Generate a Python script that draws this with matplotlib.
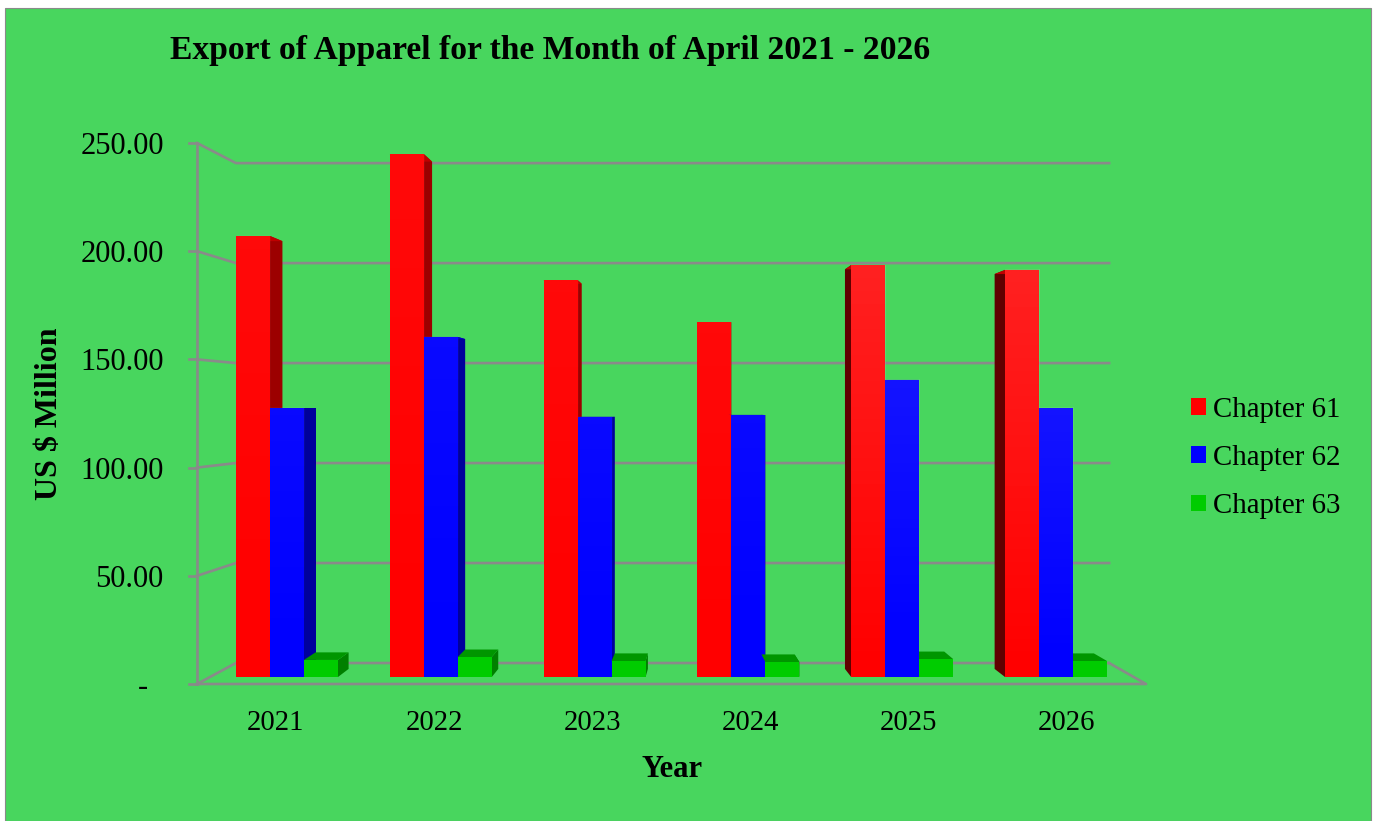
import numpy as np
import matplotlib
matplotlib.use('Agg')
import matplotlib.pyplot as plt
from matplotlib.patches import Polygon, Rectangle, Patch

years = ['2021', '2022', '2023', '2024', '2025', '2026']
series_names = ['Chapter 61', 'Chapter 62', 'Chapter 63']
chapter61 = [209.3, 248.2, 188.4, 168.4, 195.5, 193.2]
chapter62 = [127.7, 161.4, 123.4, 124.3, 141.0, 127.7]
chapter63 = [8.1, 9.5, 7.6, 7.1, 8.5, 7.6]
y_ticks = [0, 50, 100, 150, 200, 250]
y_labels = ['-  ', '50.00', '100.00', '150.00', '200.00', '250.00']

W, H = 1373, 821
BG = '#48d65e'
GRID = '#8a8a8a'
FONT = 'Liberation Serif'
face = ['#ff0000', '#0000ff', '#00cc00']
side = ['#9c0000', '#00009c', '#008000']
top = ['#c00000', '#0000c0', '#009600']
left_side = '#600000'
wash = [0.13, 0.08, 0.0]

# bar plane runs 2.107 px per unit, groups are 153.8 px apart
bar_w = 34 / 153.8
xv, yv = 2.887, 127.7


def back_pt(x, y):
    # push a point of the bar front towards the vanishing point
    dx = 0.027*(xv - x)
    if x > xv:
        dx -= 0.0195
    return x + dx, y + 0.03*(yv - y)


def back_y(v):
    return 6.64 + 0.949*v


def front_y(v):
    return -3.32 + 1.027*v


fig = plt.figure(figsize=(W/100, H/100), dpi=100, facecolor='white')
fig.add_artist(Rectangle((5/W, 0), 1366/W, 1 - 8/H, transform=fig.transFigure,
                         facecolor=BG, edgecolor='#8a8a8a', linewidth=0.8, zorder=-1))
ax = fig.add_axes([197/W, 1 - 684/H, 949/W, 541/H])
ax.patch.set_visible(False)
for s in ax.spines.values():
    s.set_visible(False)

# walls
lw = 1.9
xl_f, xl_b, xr_b, xr_f = -0.585, -0.332, 5.345, 5.585
for v in y_ticks:
    ax.plot([xl_f, xl_b, xr_b], [front_y(v), back_y(v), back_y(v)], color=GRID, lw=lw, clip_on=False, zorder=1)
    ax.plot([xl_f - 0.05, xl_f], [front_y(v), front_y(v)], color=GRID, lw=lw, clip_on=False, zorder=1)
ax.plot([xl_f, xl_f], [front_y(0), front_y(250)], color=GRID, lw=lw, clip_on=False, zorder=1)
ax.plot([xl_f, xr_f, xr_b], [front_y(0), front_y(0), back_y(0)], color=GRID, lw=lw, clip_on=False, zorder=1)

all_series = [chapter61, chapter62, chapter63]
for j, vals in enumerate(all_series):
    off = (j - 1)*bar_w
    xs = np.arange(len(vals)) + off
    bars = ax.bar(xs, vals, bar_w, color=face[j], linewidth=0, zorder=3 + j*2)
    for i, b in enumerate(bars):
        x0, x1, h = b.get_x(), b.get_x() + bar_w, b.get_height()
        # right of the vanishing point only the red bar shows its left wall
        if i <= 3 or j == 0:
            xe = x1 if i <= 3 else x0
            bx, by = back_pt(xe, h)
            bx0, by0 = back_pt(xe, 0)
            ax.add_patch(Polygon([(xe, 0), (xe, h), (bx, by), (bx0, by0)], closed=True,
                                 facecolor=side[j] if i <= 3 else left_side, edgecolor='none', zorder=2 + j*2))
        # top face, hidden behind the blue bar on the right hand groups
        z = 2 + j*2 if i <= 3 else 2
        ax.add_patch(Polygon([(x0, h), (x1, h), back_pt(x1, h), back_pt(x0, h)], closed=True,
                             facecolor=top[j], edgecolor='none', zorder=z))
        # the later bars have a stronger light wash at the top
        if wash[j] > 0:
            a = wash[j] if i >= 4 else 0.04
            grad = np.ones((32, 1, 4))
            grad[:, 0, 3] = np.linspace(a, 0, 32)
            ax.imshow(grad, extent=(x0, x1, 0, h), aspect='auto', zorder=3.5 + j*2)

ax.set_xlim(-0.585, 5.585)
ax.set_ylim(-3.32, 253.4)

ax.set_yticks([front_y(v) for v in y_ticks])
ax.set_yticklabels(y_labels, fontsize=22, family=FONT, color='black')
ax.tick_params(axis='y', length=0, pad=24)
ax.set_xticks(np.linspace(-0.0715, 5.07, 6))
ax.set_xticklabels(years, fontsize=20.7, family=FONT, color='black')
ax.tick_params(axis='x', length=0, pad=19)

fig.text(170/W, 1 - 50/H, 'Export of Apparel for the Month of April 2021 - 2026', fontsize=24.2,
         fontweight='bold', family=FONT, va='center', ha='left')
fig.text(50/W, 1 - 414/H, 'US $ Million', fontsize=23, fontweight='bold', family=FONT,
         rotation=90, va='center', ha='center')
fig.text(672/W, 1 - 769/H, 'Year', fontsize=22, fontweight='bold', family=FONT, va='center', ha='center')

handles = [Patch(facecolor=face[j], edgecolor='none') for j in range(3)]
fig.legend(handles, series_names, loc='center left', bbox_to_anchor=(1191/W, 1 - 458/H), frameon=False,
           prop={'family': FONT, 'size': 20.8}, handlelength=0.52, handleheight=0.52, handletextpad=0.24,
           labelspacing=0.77, borderpad=0, borderaxespad=0)

fig.savefig('out.png', dpi=100, facecolor='white')
